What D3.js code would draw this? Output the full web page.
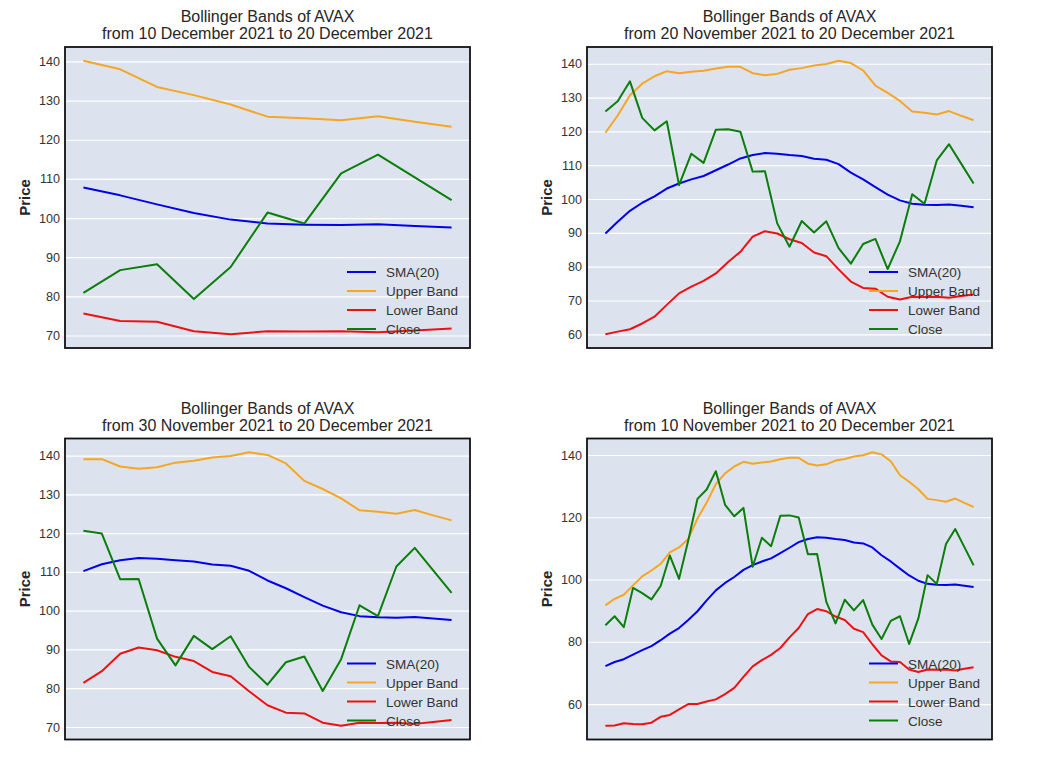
<!DOCTYPE html>
<html>
<head>
<meta charset="utf-8">
<title>Bollinger Bands of AVAX</title>
<script src="https://cdn.jsdelivr.net/npm/d3@7/dist/d3.min.js"></script>
<style>
  body { margin: 0; background: #fff; }
  svg text { font-family: "Liberation Sans", Arial, sans-serif; fill: #262626; }
</style>
</head>
<body>
<script>
// daily values, 10 Nov 2021 .. 20 Dec 2021 (41 days)
var close = [85.3, 88.2, 84.7, 97.3, 95.6, 93.6, 97.9, 107.7, 100.2, 112.5,
             125.9, 128.9, 134.8, 124.0, 120.3, 123.0, 104.1, 113.4, 110.7, 120.5,
             120.6, 119.9, 108.1, 108.2, 92.8, 85.9, 93.5, 90.1, 93.4, 85.5,
             80.9, 86.7, 88.2, 79.3, 87.5, 101.4, 98.6, 111.4, 116.2, 110.4, 104.6];
var sma20 = [72.2, 73.5, 74.4, 75.9, 77.3, 78.6, 80.5, 82.6, 84.4, 87.0,
             89.8, 93.3, 96.5, 98.9, 100.8, 103.1, 104.6, 105.8, 106.8, 108.5,
             110.2, 112.0, 113.0, 113.6, 113.4, 113.0, 112.7, 111.9, 111.6, 110.3,
             107.8, 105.8, 103.5, 101.3, 99.6, 98.6, 98.3, 98.2, 98.4, 98.0, 97.6];
var upper = [91.7, 93.8, 95.1, 98.1, 101.0, 102.9, 105.0, 108.7, 110.3, 113.0,
             119.6, 124.7, 130.7, 134.1, 136.3, 137.8, 137.2, 137.6, 137.9, 138.6,
             139.1, 139.1, 137.2, 136.6, 137.0, 138.2, 138.7, 139.5, 139.9, 140.9,
             140.2, 138.0, 133.5, 131.4, 129.0, 125.9, 125.5, 125.0, 126.0, 124.6, 123.3];
var lower = [53.0, 53.1, 53.8, 53.6, 53.5, 54.0, 55.9, 56.5, 58.3, 60.0,
             60.0, 60.8, 61.5, 63.2, 65.2, 68.7, 72.1, 74.1, 75.8, 78.0,
             81.4, 84.4, 88.9, 90.5, 89.8, 88.1, 87.0, 84.2, 83.1, 79.2,
             75.6, 73.7, 73.5, 71.1, 70.3, 71.1, 71.0, 71.1, 70.8, 71.3, 71.8];

var days = d3.utcDay.range(new Date(Date.UTC(2021, 10, 10)), new Date(Date.UTC(2021, 11, 21)));

// one panel per start date, all ending 20 December 2021
var panelStart = ["2021-12-10", "2021-11-20", "2021-11-30", "2021-11-10"];
var panelTicks = [
  [70, 80, 90, 100, 110, 120, 130, 140],
  [60, 70, 80, 90, 100, 110, 120, 130, 140],
  [70, 80, 90, 100, 110, 120, 130, 140],
  [60, 80, 100, 120, 140]
];

var seriesNames = ["SMA(20)", "Upper Band", "Lower Band", "Close"];
var seriesData = [sma20, upper, lower, close];
var seriesColors = ["#0000ee", "#f5a623", "#ee1111", "#0a7d0a"];

var fmt = d3.utcFormat("%d %B %Y");
var parse = d3.utcParse("%Y-%m-%d");

var W = 1044, H = 783;
var svg = d3.select("body").append("svg")
    .attr("width", W)
    .attr("height", H);

var pw = 405, ph = 301;
var lefts = [65, 587], tops = [47, 438.5];

panelStart.forEach(function (s, p) {
  var x0 = lefts[p % 2], y0 = tops[Math.floor(p / 2)];
  var startDay = parse(s);
  var i0 = d3.bisectLeft(days, startDay);
  var n = days.length - i0;
  var g = svg.append("g").attr("transform", "translate(" + x0 + "," + y0 + ")");

  var all = [];
  seriesData.forEach(function (arr) { all = all.concat(arr.slice(i0)); });
  var ext = d3.extent(all), pad = (ext[1] - ext[0]) * 0.05;
  var xpad = (n - 1) * 0.05;

  var x = d3.scaleLinear().domain([-xpad, n - 1 + xpad]).range([0, pw]);
  var y = d3.scaleLinear().domain([ext[0] - pad, ext[1] + pad]).range([ph, 0]);

  g.append("rect")
      .attr("width", pw).attr("height", ph)
      .attr("fill", "#dde3ee");

  // white horizontal grid
  g.append("g")
      .call(d3.axisLeft(y).tickValues(panelTicks[p]).tickSize(-pw).tickFormat(""))
      .call(function (a) {
        a.select(".domain").remove();
        a.selectAll("line").attr("stroke", "#fff").attr("stroke-width", 1.2);
      });

  // tick labels
  g.append("g")
      .call(d3.axisLeft(y).tickValues(panelTicks[p]).tickSize(0).tickPadding(5).tickFormat(d3.format("d")))
      .call(function (a) {
        a.select(".domain").remove();
        a.selectAll("text").attr("font-size", "12.6px").style("fill", "#333");
      });

  var clipId = "clip" + p;
  g.append("clipPath").attr("id", clipId)
    .append("rect").attr("width", pw).attr("height", ph);

  var line = d3.line()
      .x(function (d, i) { return x(i); })
      .y(function (d) { return y(d); });

  seriesData.forEach(function (arr, k) {
    g.append("path")
        .datum(arr.slice(i0))
        .attr("clip-path", "url(#" + clipId + ")")
        .attr("fill", "none")
        .attr("stroke", seriesColors[k])
        .attr("stroke-width", 2)
        .attr("stroke-linejoin", "round")
        .attr("d", line);
  });

  // frame
  g.append("rect")
      .attr("width", pw).attr("height", ph)
      .attr("fill", "none")
      .attr("stroke", "#111")
      .attr("stroke-width", 1.8);

  // titles
  g.append("text")
      .attr("x", pw / 2).attr("y", -25)
      .attr("text-anchor", "middle")
      .attr("font-size", "16px")
      .text("Bollinger Bands of AVAX");
  g.append("text")
      .attr("x", pw / 2).attr("y", -8)
      .attr("text-anchor", "middle")
      .attr("font-size", "16px")
      .text("from " + fmt(days[i0]) + " to " + fmt(days[days.length - 1]));

  g.append("text")
      .attr("transform", "translate(-35," + (ph / 2) + ") rotate(-90)")
      .attr("text-anchor", "middle")
      .attr("font-size", "15px")
      .attr("font-weight", "bold")
      .text("Price");

  // legend, lower right, no frame
  var lg = g.append("g").attr("transform", "translate(282," + (ph - 76) + ")");
  seriesNames.forEach(function (name, k) {
    var row = lg.append("g").attr("transform", "translate(0," + (k * 19) + ")");
    row.append("line")
        .attr("x1", 0).attr("x2", 29)
        .attr("stroke", seriesColors[k])
        .attr("stroke-width", 2);
    row.append("text")
        .attr("x", 39).attr("y", 5)
        .attr("font-size", "13.5px")
        .style("fill", "#333")
        .text(name);
  });
});
</script>
</body>
</html>
